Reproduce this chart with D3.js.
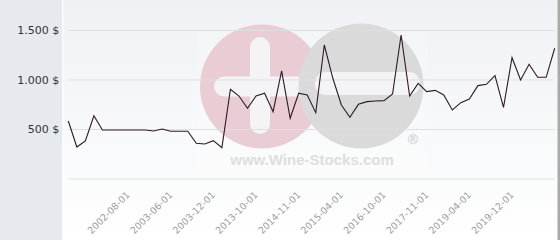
<!DOCTYPE html>
<html>
<head>
<meta charset="utf-8">
<script src="https://cdn.jsdelivr.net/npm/d3@7/dist/d3.min.js"></script>
<style>
  html, body { margin: 0; padding: 0; background: #ffffff; }
  svg { display: block; font-family: "DejaVu Sans", sans-serif; }
</style>
</head>
<body>
<div id="chart"></div>
<script>
// price per auction (58 sales)
var prices = [581, 318, 379, 634, 490, 490, 490, 490, 490, 490,
  480, 500, 477, 477, 477, 355, 348, 382, 311, 901,
  833, 709, 833, 861, 675, 1086, 608, 861, 843, 665,
  1348, 1012, 742, 618, 749, 776, 783, 786, 853, 1449,
  833, 961, 877, 890, 843, 692, 766, 803, 938, 951,
  1039, 719, 1220, 995, 1153, 1022, 1022, 1315];

// which sale gets a date label on the x axis
var labelIndex = [7, 12, 17, 22, 27, 32, 37, 42, 47, 52];
var labelDates = ["2002-08-01", "2003-06-01", "2003-12-01", "2013-10-01", "2014-11-01",
  "2015-04-01", "2016-10-01", "2017-11-01", "2019-04-01", "2019-12-01"];

var yTicks = [500, 1000, 1500];

var W = 560, H = 240;
var plot = { left: 68.3, right: 554.7, top: 5.2, bottom: 178.5 };

var svg = d3.select("#chart").append("svg")
  .attr("width", W)
  .attr("height", H);

var defs = svg.append("defs");
var grad = defs.append("linearGradient")
  .attr("id", "bg")
  .attr("x1", 0).attr("y1", 0).attr("x2", 0).attr("y2", 1);
grad.append("stop").attr("offset", "0%").attr("stop-color", "#eff1f5");
grad.append("stop").attr("offset", "100%").attr("stop-color", "#ffffff");

// left panel + plot background
svg.append("rect").attr("x", 0).attr("y", 0).attr("width", 62).attr("height", H).attr("fill", "#e6eaee");
svg.append("rect").attr("x", 62).attr("y", 0).attr("width", 1.5).attr("height", H).attr("fill", "#fafbfc");
svg.append("rect").attr("x", 63.5).attr("y", 0).attr("width", 494).attr("height", H).attr("fill", "url(#bg)");
svg.append("rect").attr("x", 557.5).attr("y", 0).attr("width", 2.5).attr("height", H).attr("fill", "#a9a9a9");

var x = d3.scaleLinear()
  .domain([0, prices.length - 1])
  .range([plot.left, plot.right]);

var y = d3.scaleLinear()
  .domain([0, 1750])
  .range([plot.bottom, plot.top]);

// watermark
var wm = svg.append("g").attr("class", "watermark");
wm.append("rect").attr("x", 197).attr("y", 30).attr("width", 231).attr("height", 144)
  .attr("fill", "#ffffff").attr("opacity", 0.18);
wm.append("circle").attr("cx", 262).attr("cy", 86.5).attr("r", 62).attr("fill", "#e9ccd4");
wm.append("rect").attr("x", 250).attr("y", 37).attr("width", 20).attr("height", 97).attr("rx", 10)
  .attr("fill", "#f4f3f6");
wm.append("rect").attr("x", 214).attr("y", 76.5).attr("width", 95).attr("height", 20).attr("rx", 10)
  .attr("fill", "#f4f3f6");
wm.append("circle").attr("cx", 361).attr("cy", 86).attr("r", 62.5).attr("fill", "#dadadb");
wm.append("rect").attr("x", 315).attr("y", 72).attr("width", 105).attr("height", 23).attr("rx", 11)
  .attr("fill", "#f4f4f6");
wm.append("text").attr("x", 413).attr("y", 144).attr("text-anchor", "middle")
  .attr("font-size", "14px").attr("font-weight", "bold").attr("fill", "#d8d8da").text("®");
wm.append("text").attr("x", 312).attr("y", 165).attr("text-anchor", "middle")
  .attr("font-family", "Liberation Sans, Arial, sans-serif")
  .attr("font-size", "15px").attr("font-weight", "bold").attr("fill", "#dedee0")
  .text("www.Wine-Stocks.com");

// y grid + labels
var fmt = d3.formatLocale({ decimal: ",", thousands: ".", grouping: [3], currency: ["", " $"] }).format("$,");

var yAxis = d3.axisLeft(y)
  .tickValues([0].concat(yTicks))
  .tickSize(-(plot.right - plot.left))
  .tickPadding(9)
  .tickFormat(function (d) { return d === 0 ? "" : fmt(d); });

var yG = svg.append("g")
  .attr("transform", "translate(" + plot.left + ",0)")
  .call(yAxis);
yG.select(".domain").remove();
yG.selectAll(".tick line").attr("stroke", "#dfdfe3").attr("stroke-width", 1);
yG.selectAll(".tick text").attr("fill", "#333333").attr("font-size", "11px")
  .attr("font-family", "DejaVu Sans, sans-serif");

// x labels
var xAxis = d3.axisBottom(x)
  .tickValues(labelIndex)
  .tickSize(0)
  .tickFormat(function (d, i) { return labelDates[i]; });

var xG = svg.append("g")
  .attr("transform", "translate(0," + plot.bottom + ")")
  .call(xAxis);
xG.select(".domain").remove();
xG.selectAll(".tick text")
  .attr("fill", "#a0a0a0")
  .attr("font-size", "9.5px")
  .attr("font-family", "DejaVu Sans, sans-serif")
  .attr("text-anchor", "end")
  .attr("dy", null)
  .attr("y", null)
  .attr("transform", "translate(2,17) rotate(-45)");

// price line
var line = d3.line()
  .x(function (d, i) { return x(i); })
  .y(function (d) { return y(d); });

svg.append("path")
  .datum(prices)
  .attr("d", line)
  .attr("fill", "none")
  .attr("stroke", "#2d1a26")
  .attr("stroke-width", 1.1);
</script>
</body>
</html>
